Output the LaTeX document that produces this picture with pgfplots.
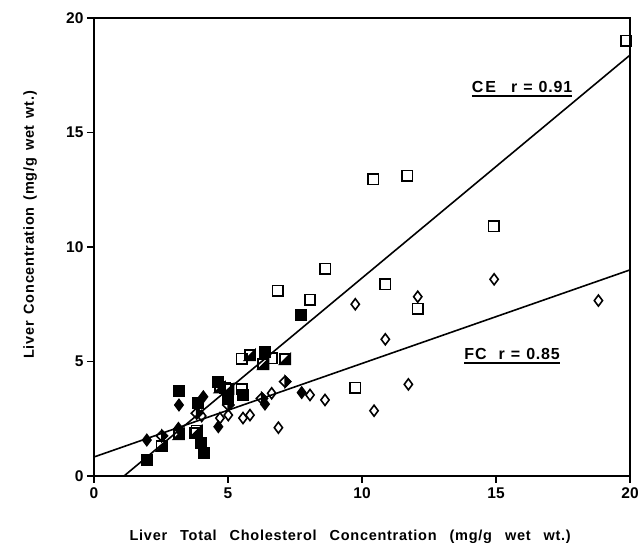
\documentclass[border=0pt]{standalone}
\usepackage{fontspec}
\setmainfont{Liberation Sans}
\newfontfamily\lblfont[LetterSpace=5]{Liberation Sans}
\usepackage{pgfplots}
\pgfplotsset{compat=1.18}

% half-filled marks (lower-right triangle / right half filled)
\pgfdeclareplotmark{halfsquare}{%
  \pgfpathrectangle{\pgfpoint{-\pgfplotmarksize}{-\pgfplotmarksize}}{\pgfpoint{2\pgfplotmarksize}{2\pgfplotmarksize}}%
  \pgfusepathqstroke
  \pgfpathmoveto{\pgfpoint{-\pgfplotmarksize}{-\pgfplotmarksize}}%
  \pgfpathlineto{\pgfpoint{\pgfplotmarksize}{-\pgfplotmarksize}}%
  \pgfpathlineto{\pgfpoint{\pgfplotmarksize}{\pgfplotmarksize}}%
  \pgfpathclose
  \pgfusepathqfillstroke
}
\pgfdeclareplotmark{halfdiamond}{%
  \pgfpathmoveto{\pgfpoint{0pt}{\pgfplotmarksize}}%
  \pgfpathlineto{\pgfpoint{\pgfplotmarksize}{0pt}}%
  \pgfpathlineto{\pgfpoint{0pt}{-\pgfplotmarksize}}%
  \pgfpathlineto{\pgfpoint{-\pgfplotmarksize}{0pt}}%
  \pgfpathclose
  \pgfusepathqstroke
  \pgfpathmoveto{\pgfpoint{0pt}{\pgfplotmarksize}}%
  \pgfpathlineto{\pgfpoint{\pgfplotmarksize}{0pt}}%
  \pgfpathlineto{\pgfpoint{0pt}{-\pgfplotmarksize}}%
  \pgfpathclose
  \pgfusepathqfillstroke
}
% thick underline
\newcommand\ul[1]{\vtop{\hbox{#1}\kern2.5pt\hrule height 1.8pt}}

\begin{document}
\begin{tikzpicture}
\begin{axis}[
  scale only axis,
  width=536pt, height=458pt,
  xmin=0, xmax=20, ymin=0, ymax=20,
  xtick={0,5,10,15,20}, ytick={0,5,10,15,20},
  tick align=outside, tick pos=left,
  major tick length=7pt,
  axis line style={line width=1.3pt},
  every tick/.style={line width=1.3pt, black},
  /pgf/number format/assume math mode=true,
  tick label style={font=\fontsize{15.5}{18}\selectfont\bfseries},
  xticklabel style={yshift=-1pt},
  xlabel={Liver\hspace{13pt}Total\hspace{13pt}Cholesterol\hspace{13pt}Concentration\hspace{13pt}(mg/g\hspace{13pt}wet\hspace{13pt}wt.)},
  ylabel={Liver\hspace{7pt}Concentration\hspace{7pt}(mg/g\hspace{7pt}wet\hspace{7pt}wt.)},
  xlabel style={font=\lblfont\fontsize{14.5}{18}\selectfont\bfseries,
    at={(axis description cs:0.478,-0.133)}, anchor=center},
  ylabel style={font=\lblfont\fontsize{14.5}{18}\selectfont\bfseries,
    at={(axis description cs:-0.119,0.548)}, anchor=center},
  clip=false,
]
% regression lines
\addplot[black, line width=1.6pt, mark=none] coordinates {(1.12,0) (20,18.38)};
\addplot[black, line width=1.6pt, mark=none] coordinates {(0,0.83) (20,9.0)};

% CE: open squares
\addplot[only marks, mark=square, mark size=5.2pt, line width=1.6pt, black] coordinates {
(19.85,19.0) (10.42,12.96) (11.69,13.11) (14.91,10.9) (8.63,9.05) (6.85,8.09)
(8.06,7.69) (10.87,8.37) (12.08,7.31) (9.75,3.86) (6.63,5.14) (5.51,5.13)
(5.51,3.79) (3.77,1.88) (4.9,3.85)
};
% filled squares
\addplot[only marks, mark=square*, mark size=5.2pt, line width=1.6pt, black] coordinates {
(1.97,0.70) (3.17,3.71) (4.12,0.99) (3.99,1.45) (3.89,3.17) (4.61,4.12)
(5.01,3.35) (5.57,3.54) (6.38,5.43) (7.72,7.02)
};
% half-filled squares
\addplot[only marks, mark=halfsquare, mark size=5.2pt, line width=1.6pt, black, fill=black] coordinates {
(2.53,1.31) (3.17,1.83) (3.83,1.97) (4.7,3.87) (5.01,3.79) (5.82,5.28)
(6.32,4.88) (7.13,5.1)
};
% FC: open diamonds
\addplot[only marks, mark=diamond, mark size=5.5pt, line width=1.6pt, black] coordinates {
(18.82,7.66) (14.93,8.59) (9.75,7.5) (12.08,7.83) (10.87,5.97) (11.73,4.0)
(10.45,2.85) (8.62,3.32) (8.06,3.54) (6.63,3.61) (6.88,2.11) (5.01,2.66)
(4.7,2.53) (5.56,2.53) (5.82,2.66) (4.02,2.62)
};
% filled diamonds
\addplot[only marks, mark=diamond*, mark size=5.5pt, line width=1.6pt, black] coordinates {
(1.97,1.57) (3.15,2.08) (3.17,3.1) (4.08,3.46) (4.64,2.15) (6.38,3.14) (7.75,3.64)
};
% half-filled diamonds
\addplot[only marks, mark=halfdiamond, mark size=5.5pt, line width=1.6pt, black, fill=black] coordinates {
(2.53,1.75) (3.83,2.74) (5.01,3.1) (6.26,3.39) (7.13,4.12)
};

\node[font=\lblfont\fontsize{16}{18}\selectfont\bfseries, anchor=base] at (axis cs:15.97,16.75)
  {\ul{C\hspace{2pt}E\hspace{15pt}r\hspace{6pt}=\hspace{6pt}0.91}};
\node[font=\lblfont\fontsize{16}{18}\selectfont\bfseries, anchor=base] at (axis cs:15.6,5.1)
  {\ul{F\hspace{1pt}C\hspace{12pt}r\hspace{6pt}=\hspace{6pt}0.85}};
\end{axis}
\pgfresetboundingbox
\useasboundingbox ([shift={(-94pt,-69pt)}]current axis.south west) rectangle ([shift={(9pt,18pt)}]current axis.north east);
\end{tikzpicture}
\end{document}
